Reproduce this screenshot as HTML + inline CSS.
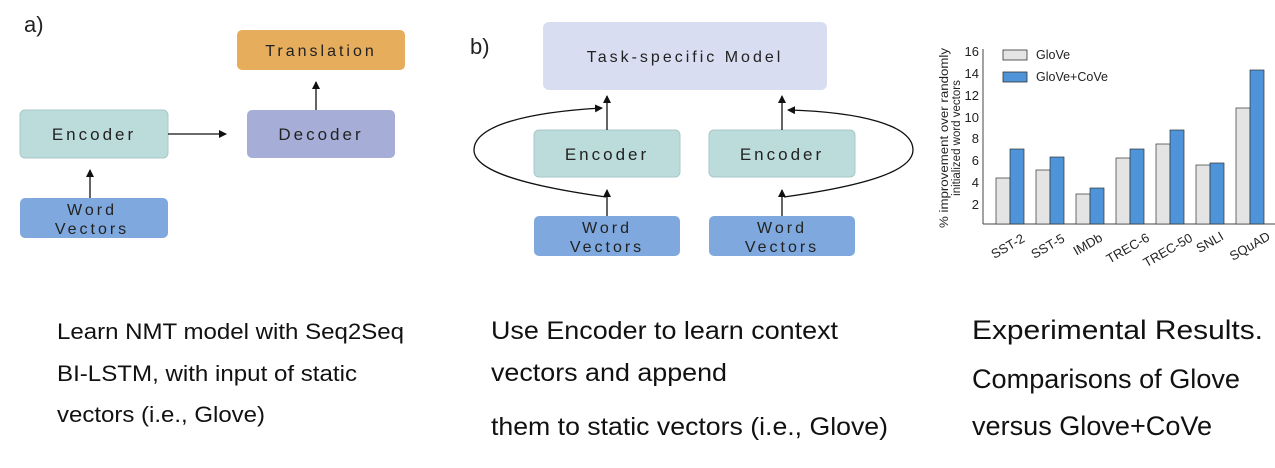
<!DOCTYPE html>
<html><head><meta charset="utf-8"><style>
body{margin:0;width:1275px;height:463px;background:#fff;overflow:hidden;font-family:"Liberation Sans",sans-serif}
</style></head><body>
<svg width="1275" height="463" xmlns="http://www.w3.org/2000/svg" font-family="Liberation Sans, sans-serif">
<defs><marker id="a" markerWidth="8" markerHeight="8" refX="7" refY="4" orient="auto" markerUnits="userSpaceOnUse"><path d="M0,0L8,4L0,8z" fill="#111"/></marker></defs>
<text x="24" y="32" font-size="22" fill="#222">a)</text>
<text x="470" y="54" font-size="22" fill="#222">b)</text>
<!-- a -->
<rect x="237" y="30" width="168" height="40" rx="5" fill="#e5ad5c"/>
<text x="321" y="56" font-size="16" letter-spacing="3" text-anchor="middle" fill="#222">Translation</text>
<rect x="20" y="110" width="148" height="48" rx="5" fill="#bcdcdc" stroke="#a8c8c8"/>
<text x="94" y="140" font-size="17" letter-spacing="3" text-anchor="middle" fill="#222">Encoder</text>
<rect x="247" y="110" width="148" height="48" rx="5" fill="#a6aed8"/>
<text x="321" y="140" font-size="17" letter-spacing="3" text-anchor="middle" fill="#222">Decoder</text>
<rect x="20" y="198" width="148" height="40" rx="5" fill="#7fa9de"/>
<text x="92" y="215" font-size="16" letter-spacing="3" text-anchor="middle" fill="#222">Word</text>
<text x="92" y="234" font-size="16" letter-spacing="3" text-anchor="middle" fill="#222">Vectors</text>
<line x1="168" y1="134" x2="226" y2="134" stroke="#111" stroke-width="1.3" marker-end="url(#a)"/>
<line x1="316" y1="110" x2="316" y2="82" stroke="#111" stroke-width="1.3" marker-end="url(#a)"/>
<line x1="90" y1="198" x2="90" y2="170" stroke="#111" stroke-width="1.3" marker-end="url(#a)"/>
<!-- b -->
<rect x="543" y="22" width="284" height="68" rx="6" fill="#d8ddf1"/>
<text x="685" y="62" font-size="16" letter-spacing="3" text-anchor="middle" fill="#222">Task-specific Model</text>
<rect x="534" y="130" width="146" height="47" rx="5" fill="#bcdcdc" stroke="#a8c8c8"/>
<text x="607" y="160" font-size="17" letter-spacing="3" text-anchor="middle" fill="#222">Encoder</text>
<rect x="709" y="130" width="146" height="47" rx="5" fill="#bcdcdc" stroke="#a8c8c8"/>
<text x="782" y="160" font-size="17" letter-spacing="3" text-anchor="middle" fill="#222">Encoder</text>
<rect x="534" y="216" width="146" height="40" rx="5" fill="#7fa9de"/>
<text x="607" y="233" font-size="16" letter-spacing="3" text-anchor="middle" fill="#222">Word</text>
<text x="607" y="252" font-size="16" letter-spacing="3" text-anchor="middle" fill="#222">Vectors</text>
<rect x="709" y="216" width="146" height="40" rx="5" fill="#7fa9de"/>
<text x="782" y="233" font-size="16" letter-spacing="3" text-anchor="middle" fill="#222">Word</text>
<text x="782" y="252" font-size="16" letter-spacing="3" text-anchor="middle" fill="#222">Vectors</text>
<g stroke="#111" stroke-width="1.3" fill="none">
<line x1="607" y1="216" x2="607" y2="190" marker-end="url(#a)"/>
<line x1="607" y1="130" x2="607" y2="96" marker-end="url(#a)"/>
<line x1="782" y1="216" x2="782" y2="190" marker-end="url(#a)"/>
<line x1="782" y1="130" x2="782" y2="96" marker-end="url(#a)"/>
<path d="M606,197 C520,185 474,170 474,150 C474,125 530,112 602,108" marker-end="url(#a)"/>
<path d="M784,197 C870,185 913,170 913,150 C913,125 860,112 788,110" marker-end="url(#a)"/>
</g>
<!-- chart -->
<g font-size="13" fill="#222">
<line x1="983" y1="49" x2="983" y2="224" stroke="#444"/>
<line x1="983" y1="224" x2="1275" y2="224" stroke="#444"/>
<text x="979" y="209" text-anchor="end">2</text>
<text x="979" y="187" text-anchor="end">4</text>
<text x="979" y="165" text-anchor="end">6</text>
<text x="979" y="143" text-anchor="end">8</text>
<text x="979" y="122" text-anchor="end">10</text>
<text x="979" y="100" text-anchor="end">12</text>
<text x="979" y="78" text-anchor="end">14</text>
<text x="979" y="56" text-anchor="end">16</text>
<text transform="translate(948,138) rotate(-90)" text-anchor="middle" font-size="11.5" textLength="180" lengthAdjust="spacingAndGlyphs">% improvement over randomly</text>
<text transform="translate(960,138) rotate(-90)" text-anchor="middle" font-size="11.5">initialized word vectors</text>
<rect x="1003" y="50" width="24" height="10" fill="#e4e4e4" stroke="#333" stroke-width=".8"/>
<text x="1036" y="59" font-size="12.5">GloVe</text>
<rect x="1003" y="72" width="24" height="10" fill="#4f94d8" stroke="#333" stroke-width=".8"/>
<text x="1036" y="81" font-size="12.5">GloVe+CoVe</text>
<g stroke="#333" stroke-width=".7">
<rect x="996" y="178" width="14" height="46" fill="#e4e4e4"/><rect x="1010" y="149" width="14" height="75" fill="#4f94d8"/>
<rect x="1036" y="170" width="14" height="54" fill="#e4e4e4"/><rect x="1050" y="157" width="14" height="67" fill="#4f94d8"/>
<rect x="1076" y="194" width="14" height="30" fill="#e4e4e4"/><rect x="1090" y="188" width="14" height="36" fill="#4f94d8"/>
<rect x="1116" y="158" width="14" height="66" fill="#e4e4e4"/><rect x="1130" y="149" width="14" height="75" fill="#4f94d8"/>
<rect x="1156" y="144" width="14" height="80" fill="#e4e4e4"/><rect x="1170" y="130" width="14" height="94" fill="#4f94d8"/>
<rect x="1196" y="165" width="14" height="59" fill="#e4e4e4"/><rect x="1210" y="163" width="14" height="61" fill="#4f94d8"/>
<rect x="1236" y="108" width="14" height="116" fill="#e4e4e4"/><rect x="1250" y="70" width="14" height="154" fill="#4f94d8"/>
</g>
<text transform="translate(1010,250) rotate(-30)" text-anchor="middle">SST-2</text>
<text transform="translate(1050,250) rotate(-30)" text-anchor="middle">SST-5</text>
<text transform="translate(1090,248) rotate(-30)" text-anchor="middle">IMDb</text>
<text transform="translate(1130,252) rotate(-30)" text-anchor="middle">TREC-6</text>
<text transform="translate(1170,254) rotate(-30)" text-anchor="middle">TREC-50</text>
<text transform="translate(1212,246) rotate(-30)" text-anchor="middle">SNLI</text>
<text transform="translate(1252,250) rotate(-30)" text-anchor="middle">SQuAD</text>
</g>
<!-- captions -->
<g fill="#111">
<text x="57" y="339" font-size="22" textLength="347" lengthAdjust="spacingAndGlyphs">Learn NMT model with Seq2Seq</text>
<text x="57" y="381" font-size="22" textLength="300" lengthAdjust="spacingAndGlyphs">BI-LSTM, with input of static</text>
<text x="57" y="422" font-size="22" textLength="208" lengthAdjust="spacingAndGlyphs">vectors (i.e., Glove)</text>
<text x="491" y="339" font-size="25" textLength="347" lengthAdjust="spacingAndGlyphs">Use Encoder to learn context</text>
<text x="491" y="381" font-size="25" textLength="236" lengthAdjust="spacingAndGlyphs">vectors and append</text>
<text x="491" y="435" font-size="25" textLength="397" lengthAdjust="spacingAndGlyphs">them to static vectors (i.e., Glove)</text>
<text x="972" y="339" font-size="27" textLength="291" lengthAdjust="spacingAndGlyphs">Experimental Results.</text>
<text x="972" y="388" font-size="27" textLength="268" lengthAdjust="spacingAndGlyphs">Comparisons of Glove</text>
<text x="972" y="435" font-size="27" textLength="240" lengthAdjust="spacingAndGlyphs">versus Glove+CoVe</text>
</g>
</svg>
</body></html>
